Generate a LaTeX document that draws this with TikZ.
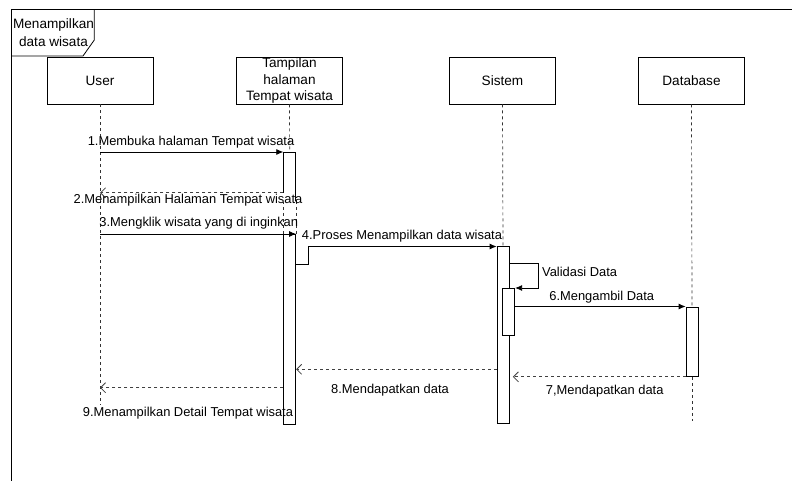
\documentclass[tikz,border=0pt]{standalone}
\usepackage{fontspec}
\setmainfont{Liberation Sans}
\usetikzlibrary{arrows.meta, calc}

\begin{document}
\begin{tikzpicture}[
    x=1pt, y=-1pt, % Pixel-like coordinates, y going down
    line width=0.8pt,
    >={Latex[length=7pt,width=6pt]}, % Filled heads for calls
    actor/.style={draw, minimum width=106pt, minimum height=47pt, inner sep=0pt, align=center, font=\fontsize{13.6}{16.7}\selectfont},
    bar/.style={draw, fill=white, minimum width=12pt, inner sep=0pt, anchor=north},
    life/.style={dash pattern=on 3pt off 3pt, line width=0.7pt, black!80},
    call/.style={->},
    reply/.style={-{Straight Barb[length=5pt,width=10pt]}, dash pattern=on 3pt off 3pt, black!75},
    lbl/.style={font=\fontsize{12.9}{15}\selectfont, inner sep=0pt, anchor=base}
]
\useasboundingbox (0,0) rectangle (792,481);

% Frame
\draw[line width=1.2pt] (11.3,481) -- (11.3,9.3) -- (792,9.3);
\draw (11.3,56) -- (83,56) -- (94.3,40) -- (94.3,9.3);
\node[inner sep=0pt, align=center, font=\fontsize{13.6}{18}\selectfont] (frameLbl) at (53.5,33) {Menampilkan\\data wisata};

% Lifeline heads
\node[actor] (user) at (100,80.5) {User};
\node[actor] (tampilan) at (289.5,80.5) {Tampilan\\halaman\\Tempat wisata};
\node[actor] (sistem) at (502.5,80.5) {Sistem};
\node[actor] (database) at (691.5,80.5) {Database};

% Activation bars
\node[bar, minimum height=48pt] (actT1) at (289.7,152) {};
\node[bar, minimum height=190pt] (actT2) at (289.7,234) {};
\node[bar, draw=none, minimum height=18pt, anchor=north west] (actT3) at (295.8,246) {};
\draw (actT3.north east) -- (actT3.south east) -- (actT3.south west);
\node[bar, minimum height=177pt] (actS1) at (503,246) {};
\node[bar, minimum height=47pt, anchor=north west] (actS2) at (502.3,288) {};
\node[bar, minimum height=69.5pt] (actD) at (692,306.5) {};

% Lifelines
\draw[life] (user.south) -- ++(0,301);
\draw[life] (tampilan.south) -- (actT1.north);
\draw[life] (sistem.south) -- (actS1.north);
\draw[life] (database.south) -- (actD.north);
\draw[life] (actD.south) -- ++(0,44);
\draw[life] (actT1.south west) -- (actT2.north west);
\draw[life] (actT1.south east) -- (actT2.north east);

% First bar of Tampilan is open at the bottom
\draw[white, line width=2pt] ([xshift=1pt]actT1.south west) -- ([xshift=-1pt]actT1.south east);
\draw[white, line width=1.5pt] ([yshift=8pt]actT1.south west) -- ([yshift=-1pt]actT1.south west);

% Messages
\coordinate (r2) at ([yshift=8pt]actT1.south west);
\coordinate (r8) at ([yshift=-123.3pt]actS1.north west);
\coordinate (r9) at ([yshift=-153.7pt]actT2.north west);

\draw[call] (user.south |- actT1.north) -- (actT1.north west);
\draw[reply] (r2) -- (user.south |- r2);
\draw[call] (user.south |- actT2.north) -- (actT2.north east);
\draw[call] ([yshift=-0.5pt]actT3.north east) -- ([yshift=-0.5pt]actS1.north west);
\draw[call] ([yshift=-17pt]actS1.north east) -- ++(29.3,0) |- (actS2.north east);
\draw[call] (actS2.east |- actD.north) -- (actD.north west);
\draw[reply] (actD.south west) -- ([xshift=3.5pt]actS1.east |- actD.south);
\draw[reply] (r8) -- (actT2.east |- r8);
\draw[reply] (r9) -- (user.south |- r9);

% Message labels
\node[lbl] (m1) at (191,145.7) {1.Membuka halaman Tempat wisata};
\node[lbl] (m2) at (188,204) {2.Menampilkan Halaman Tempat wisata};
\node[lbl] (m3) at (198.8,226.7) {3.Mengklik wisata yang di inginkan};
\node[lbl] (m4) at (402,239.5) {4.Proses Menampilkan data wisata};
\node[lbl, anchor=base west] (m5) at (541.7,276) {Validasi Data};
\node[lbl] (m6) at (601.7,300) {6.Mengambil Data};
\node[lbl] (m7) at (604.7,394) {7,Mendapatkan data};
\node[lbl] (m8) at (390,393.3) {8.Mendapatkan data};
\node[lbl] (m9) at (188,416.7) {9.Menampilkan Detail Tempat wisata};

\end{tikzpicture}
\end{document}
